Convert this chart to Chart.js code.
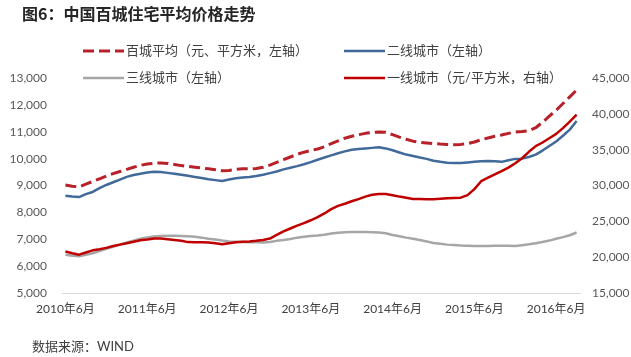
<!DOCTYPE html>
<html><head><meta charset="utf-8">
<script src="https://cdn.jsdelivr.net/npm/chart.js@4.4.1/dist/chart.umd.min.js"></script>
<style>html,body{margin:0;padding:0;background:#fff;}#wrap{position:relative;width:631px;height:357px;}</style>
</head><body><div id="wrap"><canvas id="c" width="631" height="357"></canvas></div>
<script>
const titleText = '图6：中国百城住宅平均价格走势';
const sourceText = '数据来源：WIND';
const categories = [
 '2010-06','2010-07','2010-08','2010-09','2010-10','2010-11','2010-12',
 '2011-01','2011-02','2011-03','2011-04','2011-05','2011-06','2011-07','2011-08','2011-09','2011-10','2011-11','2011-12',
 '2012-01','2012-02','2012-03','2012-04','2012-05','2012-06','2012-07','2012-08','2012-09','2012-10','2012-11','2012-12',
 '2013-01','2013-02','2013-03','2013-04','2013-05','2013-06','2013-07','2013-08','2013-09','2013-10','2013-11','2013-12',
 '2014-01','2014-02','2014-03','2014-04','2014-05','2014-06','2014-07','2014-08','2014-09','2014-10','2014-11','2014-12',
 '2015-01','2015-02','2015-03','2015-04','2015-05','2015-06','2015-07','2015-08','2015-09','2015-10','2015-11','2015-12',
 '2016-01','2016-02','2016-03','2016-04','2016-05','2016-06','2016-07','2016-08','2016-09'
];
const tickLabels = ['2010年6月','2011年6月','2012年6月','2013年6月','2014年6月','2015年6月','2016年6月'];
const seriesNames = ['百城平均（元、平方米，左轴）','二线城市（左轴）','三线城市（左轴）','一线城市（元/平方米，右轴）'];
const hundredCities = [9020,8970,8950,9050,9150,9250,9350,9440,9520,9600,9680,9750,9800,9830,9840,9820,9780,9740,9710,9680,9650,9620,9590,9550,9560,9600,9620,9620,9630,9680,9760,9860,9960,10060,10160,10240,10300,10360,10440,10560,10660,10760,10830,10890,10940,10970,10990,10980,10890,10800,10720,10650,10600,10580,10560,10540,10530,10520,10530,10560,10620,10700,10770,10830,10880,10940,10990,11010,11040,11150,11350,11580,11800,12050,12300,12550];
const tier2 = [8620,8590,8570,8680,8760,8900,9020,9120,9220,9320,9390,9440,9480,9510,9500,9470,9440,9400,9360,9320,9280,9230,9200,9170,9220,9270,9300,9320,9350,9400,9460,9520,9600,9660,9720,9790,9870,9960,10040,10120,10200,10270,10330,10360,10380,10400,10420,10380,10310,10230,10150,10100,10040,9990,9920,9880,9850,9840,9840,9860,9880,9900,9910,9900,9880,9940,9990,10000,10060,10150,10300,10470,10640,10850,11080,11400];
const tier3 = [6420,6390,6370,6420,6480,6560,6640,6720,6800,6880,6950,7020,7070,7100,7120,7130,7130,7120,7110,7090,7060,7020,6990,6950,6920,6910,6900,6890,6890,6880,6900,6940,6970,7010,7060,7090,7120,7140,7170,7210,7240,7260,7270,7270,7270,7260,7250,7220,7160,7110,7060,7020,6970,6920,6860,6830,6800,6790,6770,6760,6750,6750,6750,6760,6760,6760,6750,6780,6810,6850,6900,6950,7020,7080,7150,7250];
const tier1 = [20800,20550,20350,20650,20950,21100,21300,21550,21750,21930,22150,22350,22450,22600,22600,22500,22400,22280,22100,22080,22080,22050,21950,21800,21950,22080,22150,22200,22280,22400,22600,23100,23600,24000,24400,24750,25150,25600,26100,26700,27150,27450,27800,28100,28450,28700,28820,28800,28650,28450,28300,28120,28100,28080,28080,28150,28220,28260,28300,28650,29500,30600,31100,31550,32000,32500,33100,33800,34700,35500,36000,36600,37200,38000,38900,39900];

const FONT = 'Lato, "Noto Sans CJK SC", sans-serif';
Chart.defaults.font.family = FONT;

const overlay = {
  id: 'overlay',
  afterDraw(chart) {
    const ctx = chart.ctx;
    ctx.save();
    ctx.textAlign = 'left';
    ctx.textBaseline = 'middle';
    ctx.font = 'bold 16px "Noto Sans CJK SC", sans-serif';
    ctx.fillStyle = '#262626';
    ctx.fillText(titleText, 22, 14);
    const slots = [[83, 51], [344, 51], [83, 78], [344, 78]];
    chart.data.datasets.forEach((ds, i) => {
      const [x, y] = slots[i];
      ctx.beginPath();
      ctx.setLineDash(ds.borderDash || []);
      ctx.lineWidth = ds.borderWidth;
      ctx.strokeStyle = ds.borderColor;
      ctx.moveTo(x, y);
      ctx.lineTo(x + 41, y);
      ctx.stroke();
      ctx.setLineDash([]);
      ctx.font = '13px ' + FONT;
      ctx.fillStyle = '#404040';
      ctx.fillText(ds.label, x + 43, y);
    });
    ctx.font = '13px ' + FONT;
    ctx.fillStyle = '#404040';
    ctx.fillText(sourceText, 32, 347);
    ctx.restore();
  }
};

const fmt = v => v.toLocaleString('en-US');

new Chart(document.getElementById('c'), {
  type: 'line',
  data: {
    labels: categories,
    datasets: [
      { label: seriesNames[0], data: hundredCities, yAxisID: 'y', borderColor: '#B8202A', borderWidth: 3, borderDash: [11, 5], order: 1 },
      { label: seriesNames[1], data: tier2, yAxisID: 'y', borderColor: '#41699A', borderWidth: 2.5, order: 3 },
      { label: seriesNames[2], data: tier3, yAxisID: 'y', borderColor: '#A6A6A6', borderWidth: 2.5, order: 4 },
      { label: seriesNames[3], data: tier1, yAxisID: 'y1', borderColor: '#C00000', borderWidth: 2.5, order: 2 }
    ]
  },
  options: {
    responsive: false,
    animation: false,
    devicePixelRatio: 1,
    layout: { padding: { top: 78, left: 0, right: 0, bottom: 0 } },
    elements: { point: { radius: 0 }, line: { tension: 0, borderCapStyle: 'butt', borderJoinStyle: 'round' } },
    plugins: { legend: { display: false }, title: { display: false }, tooltip: { enabled: false } },
    scales: {
      x: {
        type: 'category',
        offset: true,
        grid: { display: false, drawTicks: false },
        border: { display: true, color: '#D9D9D9', width: 1 },
        ticks: {
          autoSkip: false, maxRotation: 0, minRotation: 0, padding: 9,
          color: '#404040', font: { size: 12 },
          callback: (v, i) => (i % 12 === 0 ? tickLabels[i / 12] : '')
        },
        afterFit: s => { s.height = 64; }
      },
      y: {
        position: 'left', min: 5000, max: 13000,
        grid: { display: false, drawTicks: false }, border: { display: false },
        ticks: { stepSize: 1000, padding: 15, color: '#595959', font: { size: 12 }, callback: fmt },
        afterFit: s => { s.width = 62; }
      },
      y1: {
        position: 'right', min: 15000, max: 45000,
        grid: { display: false, drawTicks: false }, border: { display: false },
        ticks: { stepSize: 5000, padding: 12, color: '#595959', font: { size: 12 }, callback: fmt },
        afterFit: s => { s.width = 51; }
      }
    }
  },
  plugins: [overlay]
});
</script></body></html>
